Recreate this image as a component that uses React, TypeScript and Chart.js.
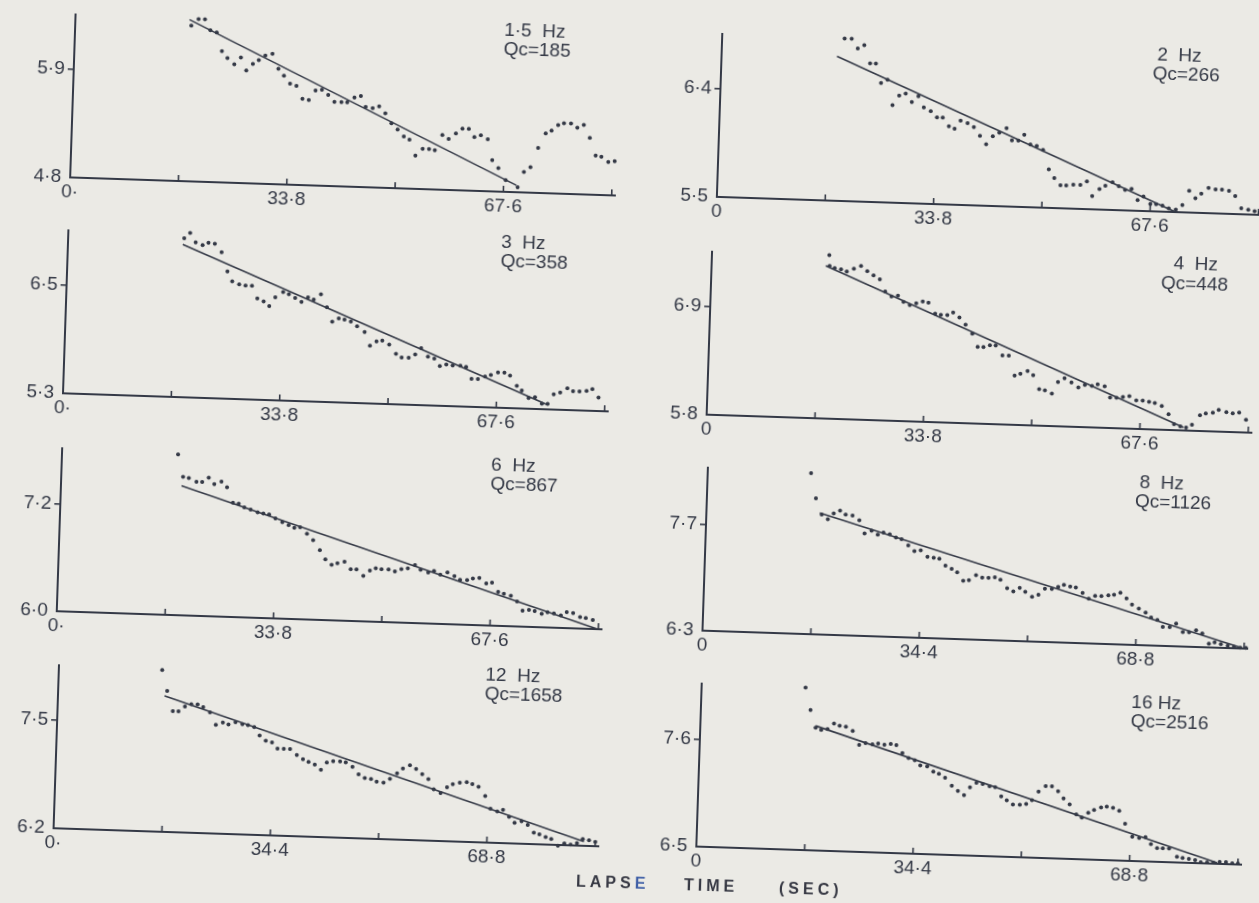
import React, { useEffect, useRef } from "react";
import { Chart, registerables } from "chart.js";

Chart.register(...registerables);

// ---------- tick values / labels ----------
const xTicks_16_9 = [0, 16.9, 33.8, 50.7, 67.6, 84.5];
const xLabels_16_9_dot = ["0·", "", "33·8", "", "67·6", ""];
const xLabels_16_9 = ["0", "", "33·8", "", "67·6", ""];
const xTicks_17_2 = [0, 17.2, 34.4, 51.6, 68.8, 86.0];
const xLabels_17_2_dot = ["0·", "", "34·4", "", "68·8", ""];
const xLabels_17_2 = ["0", "", "34·4", "", "68·8", ""];

const yTicks_1_5Hz = [4.8, 5.9];
const yLabels_1_5Hz = ["4·8", "5·9"];
const yTicks_2Hz = [5.5, 6.4];
const yLabels_2Hz = ["5·5", "6·4"];
const yTicks_3Hz = [5.3, 6.5];
const yLabels_3Hz = ["5·3", "6·5"];
const yTicks_4Hz = [5.8, 6.9];
const yLabels_4Hz = ["5·8", "6·9"];
const yTicks_6Hz = [6.0, 7.2];
const yLabels_6Hz = ["6·0", "7·2"];
const yTicks_8Hz = [6.3, 7.7];
const yLabels_8Hz = ["6·3", "7·7"];
const yTicks_12Hz = [6.2, 7.5];
const yLabels_12Hz = ["6·2", "7·5"];
const yTicks_16Hz = [6.5, 7.6];
const yLabels_16Hz = ["6·5", "7·6"];

// ---------- 1.5 Hz ----------
const time_1_5Hz = [18.1, 19.2, 20.2, 21.1, 22.1, 23.0, 23.9, 25.0, 26.0, 26.9, 27.9, 28.8, 29.8, 30.9, 31.9, 32.8, 33.8, 34.8, 35.8, 36.8, 37.8, 38.8, 39.8, 40.8, 41.9, 42.8, 43.9, 44.9, 45.7, 46.8, 47.8, 48.8, 49.8, 50.8, 51.8, 52.7, 53.7, 54.8, 55.8, 56.7, 57.8, 58.8, 59.9, 60.9, 61.9, 62.8, 63.8, 64.9, 65.7, 66.7, 67.9, 69.8, 70.7, 71.7, 72.8, 73.9, 74.8, 75.8, 76.7, 77.8, 78.8, 79.8, 80.8, 81.8, 82.7, 83.8, 84.8];
const logAmp_1_5Hz = [6.39, 6.46, 6.46, 6.35, 6.33, 6.14, 6.07, 6.01, 6.08, 5.95, 6.02, 6.06, 6.11, 6.13, 5.98, 5.91, 5.83, 5.81, 5.68, 5.67, 5.77, 5.78, 5.73, 5.66, 5.66, 5.66, 5.71, 5.73, 5.62, 5.61, 5.63, 5.56, 5.46, 5.40, 5.33, 5.30, 5.14, 5.21, 5.21, 5.20, 5.36, 5.32, 5.38, 5.43, 5.43, 5.35, 5.37, 5.33, 5.12, 5.04, 4.92, 4.85, 5.01, 5.06, 5.26, 5.41, 5.44, 5.50, 5.52, 5.52, 5.48, 5.51, 5.38, 5.20, 5.19, 5.14, 5.15];
const fitTime_1_5Hz = [17.8, 69.6];
const fitAmp_1_5Hz = [6.45, 4.87];

// ---------- 2 Hz ----------
const time_2Hz = [19.1, 20.2, 21.2, 22.2, 23.2, 24.1, 25.0, 26.0, 26.9, 27.9, 28.9, 29.9, 30.9, 31.8, 32.9, 33.9, 34.8, 35.8, 36.7, 37.6, 38.7, 39.7, 40.7, 41.7, 42.7, 43.7, 44.8, 45.7, 46.7, 47.6, 48.6, 49.6, 50.6, 51.6, 52.5, 53.5, 54.4, 55.5, 56.6, 57.6, 58.5, 59.6, 60.5, 61.6, 62.6, 63.6, 64.6, 65.6, 66.5, 67.6, 68.5, 69.5, 70.5, 71.6, 72.6, 73.6, 74.6, 75.5, 76.6, 77.7, 78.7, 79.8, 80.8, 81.8, 82.9, 83.9, 84.8];
const logAmp_2Hz = [6.85, 6.85, 6.77, 6.80, 6.65, 6.65, 6.49, 6.52, 6.31, 6.39, 6.41, 6.34, 6.39, 6.30, 6.27, 6.22, 6.22, 6.15, 6.13, 6.20, 6.18, 6.15, 6.08, 6.01, 6.08, 6.11, 6.15, 6.05, 6.05, 6.10, 6.02, 6.01, 5.98, 5.82, 5.75, 5.69, 5.69, 5.70, 5.70, 5.73, 5.61, 5.67, 5.70, 5.73, 5.70, 5.67, 5.68, 5.59, 5.62, 5.56, 5.56, 5.55, 5.53, 5.52, 5.56, 5.68, 5.62, 5.66, 5.71, 5.70, 5.70, 5.69, 5.65, 5.55, 5.54, 5.53, 5.52];
const fitTime_2Hz = [18.0, 71.6];
const fitAmp_2Hz = [6.70, 5.50];

// ---------- 3 Hz ----------
const time_3Hz = [18.1, 19.0, 19.9, 21.0, 21.9, 22.9, 24.0, 25.0, 25.8, 26.9, 27.9, 28.9, 29.8, 30.8, 31.7, 32.6, 33.8, 34.7, 35.7, 36.7, 37.7, 38.6, 39.7, 40.7, 41.6, 42.6, 43.5, 44.5, 45.5, 46.7, 47.6, 48.6, 49.5, 50.6, 51.7, 52.6, 53.7, 54.7, 55.6, 56.7, 57.7, 58.6, 59.6, 60.6, 61.8, 62.7, 63.6, 64.6, 65.7, 66.6, 67.7, 68.7, 69.6, 70.7, 71.5, 72.6, 73.6, 74.7, 75.6, 76.5, 77.5, 78.6, 79.5, 80.5, 81.6, 82.5, 83.5];
const logAmp_3Hz = [7.06, 7.12, 7.02, 6.99, 7.02, 7.01, 6.92, 6.71, 6.60, 6.57, 6.56, 6.56, 6.42, 6.39, 6.34, 6.44, 6.50, 6.48, 6.44, 6.40, 6.45, 6.43, 6.49, 6.35, 6.19, 6.23, 6.22, 6.20, 6.15, 6.09, 5.94, 5.99, 6.00, 5.96, 5.86, 5.82, 5.82, 5.86, 5.93, 5.84, 5.82, 5.74, 5.76, 5.75, 5.75, 5.74, 5.61, 5.61, 5.64, 5.66, 5.69, 5.69, 5.66, 5.55, 5.50, 5.42, 5.43, 5.36, 5.36, 5.47, 5.49, 5.54, 5.51, 5.51, 5.52, 5.54, 5.45];
const fitTime_3Hz = [17.9, 75.6];
const fitAmp_3Hz = [6.99, 5.35];

// ---------- 4 Hz ----------
const time_4Hz = [18.3, 18.4, 19.2, 20.2, 21.1, 22.2, 23.3, 24.3, 25.3, 26.3, 27.2, 28.2, 29.2, 30.1, 31.1, 32.1, 33.1, 34.0, 35.1, 36.0, 37.0, 37.9, 38.9, 39.9, 41.0, 41.9, 42.8, 43.8, 44.7, 45.8, 46.8, 47.8, 48.7, 49.8, 50.7, 51.7, 52.6, 53.7, 54.6, 55.6, 56.7, 57.8, 58.8, 59.9, 60.8, 61.9, 62.8, 63.8, 64.8, 65.8, 66.9, 67.9, 68.9, 69.8, 70.9, 72.0, 72.9, 73.9, 74.8, 75.7, 76.9, 77.8, 78.9, 79.8, 81.0, 82.0, 83.0, 84.1];
const logAmp_4Hz = [7.46, 7.35, 7.33, 7.32, 7.30, 7.33, 7.36, 7.31, 7.27, 7.23, 7.11, 7.06, 7.07, 7.01, 6.98, 7.00, 7.02, 7.01, 6.90, 6.89, 6.89, 6.92, 6.87, 6.80, 6.71, 6.58, 6.58, 6.60, 6.60, 6.50, 6.50, 6.30, 6.32, 6.35, 6.31, 6.17, 6.16, 6.13, 6.25, 6.29, 6.25, 6.20, 6.23, 6.22, 6.24, 6.22, 6.11, 6.11, 6.12, 6.13, 6.09, 6.09, 6.08, 6.07, 6.04, 5.96, 5.86, 5.84, 5.83, 5.86, 5.96, 5.98, 5.99, 6.02, 6.00, 5.99, 6.00, 5.93];
const fitTime_4Hz = [17.8, 74.4];
const fitAmp_4Hz = [7.35, 5.83];

// ---------- 6 Hz ----------
const time_6Hz = [18.1, 19.0, 19.9, 21.1, 22.0, 23.0, 23.9, 25.0, 25.9, 26.9, 27.8, 28.7, 29.7, 30.8, 31.7, 32.6, 33.6, 34.7, 35.7, 36.6, 37.5, 38.6, 39.6, 40.7, 41.6, 42.6, 43.5, 44.6, 45.6, 46.5, 47.6, 48.6, 49.5, 50.4, 51.5, 52.5, 53.5, 54.5, 55.6, 56.5, 57.7, 58.6, 59.6, 60.7, 61.8, 62.7, 63.8, 64.7, 65.7, 66.8, 67.7, 68.7, 69.6, 70.7, 71.7, 72.6, 73.6, 74.5, 75.6, 76.5, 77.5, 78.6, 79.5, 80.5, 81.6, 82.5, 83.6];
const logAmp_6Hz = [7.80, 7.55, 7.54, 7.50, 7.50, 7.55, 7.48, 7.51, 7.45, 7.28, 7.27, 7.23, 7.21, 7.18, 7.17, 7.16, 7.12, 7.08, 7.05, 7.02, 7.03, 6.96, 6.89, 6.78, 6.68, 6.62, 6.64, 6.66, 6.58, 6.58, 6.51, 6.57, 6.60, 6.59, 6.59, 6.57, 6.60, 6.61, 6.65, 6.60, 6.57, 6.59, 6.55, 6.58, 6.54, 6.50, 6.50, 6.52, 6.53, 6.47, 6.48, 6.38, 6.36, 6.34, 6.28, 6.18, 6.19, 6.18, 6.15, 6.17, 6.16, 6.14, 6.18, 6.17, 6.13, 6.12, 6.10];
const fitTime_6Hz = [18.8, 84.4];
const fitAmp_6Hz = [7.45, 6.0];

// ---------- 8 Hz ----------
const time_8Hz = [16.4, 17.3, 18.3, 19.3, 20.2, 21.2, 22.1, 23.2, 24.3, 25.2, 26.3, 27.3, 28.2, 29.2, 30.2, 31.1, 32.2, 33.2, 34.2, 35.3, 36.3, 37.2, 38.2, 39.2, 40.1, 41.1, 42.0, 43.1, 44.1, 45.1, 46.1, 47.0, 48.1, 49.1, 50.1, 51.0, 52.1, 53.1, 54.1, 55.2, 56.2, 57.1, 58.1, 59.0, 60.1, 61.1, 62.1, 63.1, 64.2, 65.1, 66.1, 67.1, 68.0, 69.1, 70.2, 71.1, 72.1, 73.0, 74.1, 75.1, 76.2, 77.2, 78.3, 79.3, 80.4, 81.3, 82.3, 83.4, 84.4, 85.4, 86.3];
const logAmp_8Hz = [8.42, 8.09, 7.88, 7.82, 7.90, 7.94, 7.89, 7.88, 7.82, 7.65, 7.69, 7.64, 7.67, 7.65, 7.61, 7.59, 7.51, 7.44, 7.45, 7.37, 7.36, 7.35, 7.26, 7.22, 7.18, 7.07, 7.08, 7.15, 7.12, 7.12, 7.13, 7.10, 6.99, 6.95, 7.00, 6.95, 6.89, 6.92, 7.00, 7.00, 7.03, 7.06, 7.04, 7.03, 6.96, 6.89, 6.93, 6.93, 6.94, 6.95, 6.98, 6.91, 6.83, 6.78, 6.73, 6.67, 6.64, 6.55, 6.55, 6.60, 6.49, 6.49, 6.52, 6.48, 6.35, 6.37, 6.35, 6.33, 6.32, 6.31, 6.31];
const fitTime_8Hz = [18.0, 86.0];
const fitAmp_8Hz = [7.90, 6.30];

// ---------- 12 Hz ----------
const time_12Hz = [16.4, 17.3, 18.3, 19.2, 20.2, 21.2, 22.2, 23.1, 24.2, 25.2, 26.3, 27.2, 28.3, 29.4, 30.3, 31.3, 32.2, 33.2, 34.2, 35.1, 36.1, 37.1, 38.2, 39.2, 40.1, 41.1, 42.1, 43.0, 44.0, 45.1, 46.0, 47.1, 48.1, 49.1, 50.1, 51.0, 52.1, 53.1, 54.2, 55.1, 56.2, 57.2, 58.2, 59.2, 60.1, 61.2, 62.2, 63.1, 64.2, 65.3, 66.2, 67.2, 68.3, 69.2, 70.3, 71.2, 72.2, 73.1, 74.2, 75.2, 76.2, 77.1, 78.1, 79.0, 80.1, 81.1, 82.1, 83.1, 84.0, 85.0, 86.0];
const logAmp_12Hz = [8.15, 7.90, 7.66, 7.66, 7.72, 7.75, 7.75, 7.72, 7.66, 7.51, 7.54, 7.52, 7.55, 7.53, 7.52, 7.50, 7.40, 7.34, 7.32, 7.25, 7.25, 7.25, 7.18, 7.13, 7.10, 7.07, 7.01, 7.10, 7.12, 7.12, 7.11, 7.06, 6.97, 6.93, 6.92, 6.89, 6.88, 6.93, 7.00, 7.06, 7.10, 7.06, 7.00, 6.94, 6.82, 6.78, 6.85, 6.89, 6.91, 6.92, 6.90, 6.87, 6.76, 6.61, 6.58, 6.60, 6.52, 6.45, 6.47, 6.43, 6.34, 6.32, 6.29, 6.27, 6.19, 6.22, 6.21, 6.23, 6.28, 6.27, 6.25];
const fitTime_12Hz = [16.9, 84.2];
const fitAmp_12Hz = [7.84, 6.25];

// ---------- 16 Hz ----------
const time_16Hz = [16.5, 17.4, 18.3, 19.2, 20.2, 21.2, 22.1, 23.1, 24.2, 25.3, 26.3, 27.4, 28.3, 29.3, 30.3, 31.2, 32.2, 33.2, 34.2, 35.1, 36.2, 37.2, 38.1, 39.1, 40.2, 41.2, 42.2, 43.1, 44.1, 45.1, 46.2, 47.1, 48.1, 49.0, 50.0, 51.1, 52.1, 53.0, 54.0, 55.1, 56.1, 57.1, 58.0, 59.0, 60.1, 61.0, 62.0, 62.9, 64.0, 64.9, 65.9, 66.9, 67.9, 69.1, 70.2, 71.2, 72.1, 73.1, 74.0, 75.0, 76.3, 77.2, 78.2, 79.2, 80.1, 81.1, 82.1, 83.1, 84.1, 85.1, 86.0];
const logAmp_16Hz = [8.17, 7.94, 7.76, 7.74, 7.75, 7.81, 7.79, 7.78, 7.74, 7.60, 7.62, 7.61, 7.62, 7.61, 7.62, 7.61, 7.53, 7.48, 7.46, 7.41, 7.40, 7.35, 7.33, 7.29, 7.21, 7.16, 7.12, 7.20, 7.25, 7.24, 7.22, 7.21, 7.12, 7.08, 7.04, 7.04, 7.05, 7.09, 7.18, 7.24, 7.24, 7.19, 7.12, 7.06, 6.96, 6.93, 6.98, 7.01, 7.04, 7.05, 7.04, 7.01, 6.88, 6.75, 6.74, 6.75, 6.68, 6.64, 6.64, 6.64, 6.56, 6.55, 6.54, 6.53, 6.51, 6.51, 6.51, 6.52, 6.52, 6.51, 6.51];
const fitTime_16Hz = [18.3, 82.7];
const fitAmp_16Hz = [7.78, 6.51];

// ---------- layout / style ----------
const TILT_DEG = 1.9;
const PLOT_W = 545;
const PLOT_H = 163;
const AX_W = 60;
const PAD_T = 14;
const PAD_R = 14;
const AX_H = 36;
const CANVAS_W = AX_W + PLOT_W + PAD_R;
const CANVAS_H = PAD_T + PLOT_H + AX_H;
const INK = "#343946";
const PAPER = "#ebeae5";
const FONT = "'Liberation Sans', Arial, sans-serif";

type Panel = {
  key: string;
  hz: string;
  qc: string;
  time: number[];
  amp: number[];
  fitT: number[];
  fitA: number[];
  xTicks: number[];
  xLabels: string[];
  yTicks: number[];
  yLabels: string[];
  xMax: number;
  yMin: number;
  yMax: number;
  u0: number;
  v0: number;
  l1: [number, number];
  l2: [number, number];
};

const panels: Panel[] = [
  { key: "p1", hz: "1·5  Hz", qc: "Qc=185", time: time_1_5Hz, amp: logAmp_1_5Hz, fitT: fitTime_1_5Hz, fitA: fitAmp_1_5Hz, xTicks: xTicks_16_9, xLabels: xLabels_16_9_dot, yTicks: yTicks_1_5Hz, yLabels: yLabels_1_5Hz, xMax: 85, yMin: 4.8, yMax: 6.46, u0: 75.9, v0: 174.7, l1: [429, -169], l2: [429, -150] },
  { key: "p2", hz: "2  Hz", qc: "Qc=266", time: time_2Hz, amp: logAmp_2Hz, fitT: fitTime_2Hz, fitA: fitAmp_2Hz, xTicks: xTicks_16_9, xLabels: xLabels_16_9, yTicks: yTicks_2Hz, yLabels: yLabels_2Hz, xMax: 85, yMin: 5.5, yMax: 6.85, u0: 722.5, v0: 173.2, l1: [436, -164], l2: [432, -145] },
  { key: "p3", hz: "3  Hz", qc: "Qc=358", time: time_3Hz, amp: logAmp_3Hz, fitT: fitTime_3Hz, fitA: fitAmp_3Hz, xTicks: xTicks_16_9, xLabels: xLabels_16_9_dot, yTicks: yTicks_3Hz, yLabels: yLabels_3Hz, xMax: 85, yMin: 5.3, yMax: 7.1, u0: 76, v0: 390.9, l1: [433, -173], l2: [433, -154] },
  { key: "p4", hz: "4  Hz", qc: "Qc=448", time: time_4Hz, amp: logAmp_4Hz, fitT: fitTime_4Hz, fitA: fitAmp_4Hz, xTicks: xTicks_16_9, xLabels: xLabels_16_9, yTicks: yTicks_4Hz, yLabels: yLabels_4Hz, xMax: 85, yMin: 5.8, yMax: 7.45, u0: 719.7, v0: 390.6, l1: [462, -174], l2: [450, -154] },
  { key: "p5", hz: "6  Hz", qc: "Qc=867", time: time_6Hz, amp: logAmp_6Hz, fitT: fitTime_6Hz, fitA: fitAmp_6Hz, xTicks: xTicks_16_9, xLabels: xLabels_16_9_dot, yTicks: yTicks_6Hz, yLabels: yLabels_6Hz, xMax: 85, yMin: 6.0, yMax: 7.82, u0: 77.3, v0: 609.1, l1: [429, -168], l2: [429, -149] },
  { key: "p6", hz: "8  Hz", qc: "Qc=1126", time: time_8Hz, amp: logAmp_8Hz, fitT: fitTime_8Hz, fitA: fitAmp_8Hz, xTicks: xTicks_17_2, xLabels: xLabels_17_2, yTicks: yTicks_8Hz, yLabels: yLabels_8Hz, xMax: 86.5, yMin: 6.3, yMax: 8.44, u0: 722.9, v0: 606.7, l1: [432, -170], l2: [428, -151] },
  { key: "p7", hz: "12  Hz", qc: "Qc=1658", time: time_12Hz, amp: logAmp_12Hz, fitT: fitTime_12Hz, fitA: fitAmp_12Hz, xTicks: xTicks_17_2, xLabels: xLabels_17_2_dot, yTicks: yTicks_12Hz, yLabels: yLabels_12Hz, xMax: 86.5, yMin: 6.2, yMax: 8.16, u0: 80.5, v0: 826.2, l1: [427, -175], l2: [427, -156] },
  { key: "p8", hz: "16 Hz", qc: "Qc=2516", time: time_16Hz, amp: logAmp_16Hz, fitT: fitTime_16Hz, fitA: fitAmp_16Hz, xTicks: xTicks_17_2, xLabels: xLabels_17_2, yTicks: yTicks_16Hz, yLabels: yLabels_16Hz, xMax: 86.5, yMin: 6.5, yMax: 8.17, u0: 724.1, v0: 822.9, l1: [430, -166], l2: [430, -147] },
];

const innerTicks = {
  id: "innerTicks",
  beforeDatasetsDraw(chart: any) {
    const { ctx, chartArea } = chart;
    const xs = chart.scales.x;
    ctx.save();
    ctx.strokeStyle = INK;
    ctx.lineWidth = 1.6;
    xs.ticks.forEach((t: any) => {
      if (t.value <= 0) return;
      const px = xs.getPixelForValue(t.value);
      ctx.beginPath();
      ctx.moveTo(px, chartArea.bottom);
      ctx.lineTo(px, chartArea.bottom - 6);
      ctx.stroke();
    });
    ctx.restore();
  },
};

function makeConfig(p: Panel): any {
  const tickFont = { family: FONT, size: 19 };
  return {
    type: "scatter",
    data: {
      datasets: [
        {
          type: "scatter",
          data: p.time.map((t, i) => ({ x: t, y: p.amp[i] })),
          pointRadius: 2,
          pointHoverRadius: 2,
          backgroundColor: INK,
          borderWidth: 0,
          clip: false,
        },
        {
          type: "line",
          data: p.fitT.map((t, i) => ({ x: t, y: p.fitA[i] })),
          borderColor: INK,
          borderWidth: 1.6,
          pointRadius: 0,
          fill: false,
          tension: 0,
          clip: false,
        },
      ],
    },
    options: {
      responsive: false,
      animation: false,
      events: [],
      layout: { padding: { top: PAD_T, right: PAD_R, left: 0, bottom: 0 } },
      plugins: {
        legend: { display: false },
        tooltip: { enabled: false },
        title: { display: false },
      },
      scales: {
        x: {
          type: "linear",
          min: 0,
          max: p.xMax,
          afterFit: (s: any) => {
            s.height = AX_H;
          },
          afterBuildTicks: (s: any) => {
            s.ticks = p.xTicks.map((v) => ({ value: v }));
          },
          ticks: {
            autoSkip: false,
            maxRotation: 0,
            padding: 3,
            color: INK,
            font: tickFont,
            callback: (_v: any, i: number) => p.xLabels[i] ?? "",
          },
          grid: { display: false, drawTicks: false },
          border: { display: true, color: INK, width: 2 },
        },
        y: {
          type: "linear",
          min: p.yMin,
          max: p.yMax,
          afterFit: (s: any) => {
            s.width = AX_W;
          },
          afterBuildTicks: (s: any) => {
            s.ticks = p.yTicks.map((v) => ({ value: v }));
          },
          ticks: {
            autoSkip: false,
            padding: 3,
            color: INK,
            font: tickFont,
            callback: (_v: any, i: number) => p.yLabels[i] ?? "",
          },
          grid: {
            display: true,
            drawOnChartArea: false,
            drawTicks: true,
            tickLength: 6,
            lineWidth: 1.6,
            color: (c: any) =>
              c.tick && Math.abs(c.tick.value - p.yMin) < 1e-9 ? "rgba(0,0,0,0)" : INK,
          },
          border: { display: true, color: INK, width: 2 },
        },
      },
    },
    plugins: [innerTicks],
  };
}

function PanelChart({ p }: { p: Panel }) {
  const ref = useRef<HTMLCanvasElement>(null);
  useEffect(() => {
    if (!ref.current) return;
    const chart = new Chart(ref.current, makeConfig(p));
    return () => chart.destroy();
  }, [p]);
  const labelStyle: React.CSSProperties = {
    position: "absolute",
    fontFamily: FONT,
    fontSize: 19,
    lineHeight: "18px",
    color: INK,
    whiteSpace: "pre",
  };
  return (
    <>
      <canvas
        ref={ref}
        width={CANVAS_W}
        height={CANVAS_H}
        style={{
          position: "absolute",
          left: p.u0 - AX_W,
          top: p.v0 - PLOT_H - PAD_T,
          width: CANVAS_W,
          height: CANVAS_H,
        }}
      />
      <div style={{ ...labelStyle, left: p.u0 + p.l1[0], top: p.v0 + p.l1[1] - 2 }}>{p.hz}</div>
      <div style={{ ...labelStyle, left: p.u0 + p.l2[0], top: p.v0 + p.l2[1] - 2 }}>{p.qc}</div>
    </>
  );
}

export default function App() {
  const axisTitle: React.CSSProperties = {
    position: "absolute",
    top: 853,
    fontFamily: FONT,
    fontWeight: "bold",
    fontSize: 16,
    letterSpacing: "4px",
    color: "#363843",
    whiteSpace: "pre",
  };
  return (
    <div
      style={{
        position: "fixed",
        left: 0,
        top: 0,
        width: 1259,
        height: 903,
        overflow: "hidden",
        background: PAPER,
      }}
    >
      <div
        style={{
          position: "absolute",
          left: 0,
          top: 0,
          width: 1259,
          height: 903,
          transform: `rotate(${TILT_DEG}deg)`,
          transformOrigin: "0 0",
        }}
      >
        {panels.map((p) => (
          <PanelChart key={p.key} p={p} />
        ))}
        <div style={{ ...axisTitle, left: 605 }}>
          LAPS<span style={{ color: "#3f5fa6" }}>E</span>
        </div>
        <div style={{ ...axisTitle, left: 713 }}>TIME</div>
        <div style={{ ...axisTitle, left: 808 }}>(SEC)</div>
      </div>
    </div>
  );
}
